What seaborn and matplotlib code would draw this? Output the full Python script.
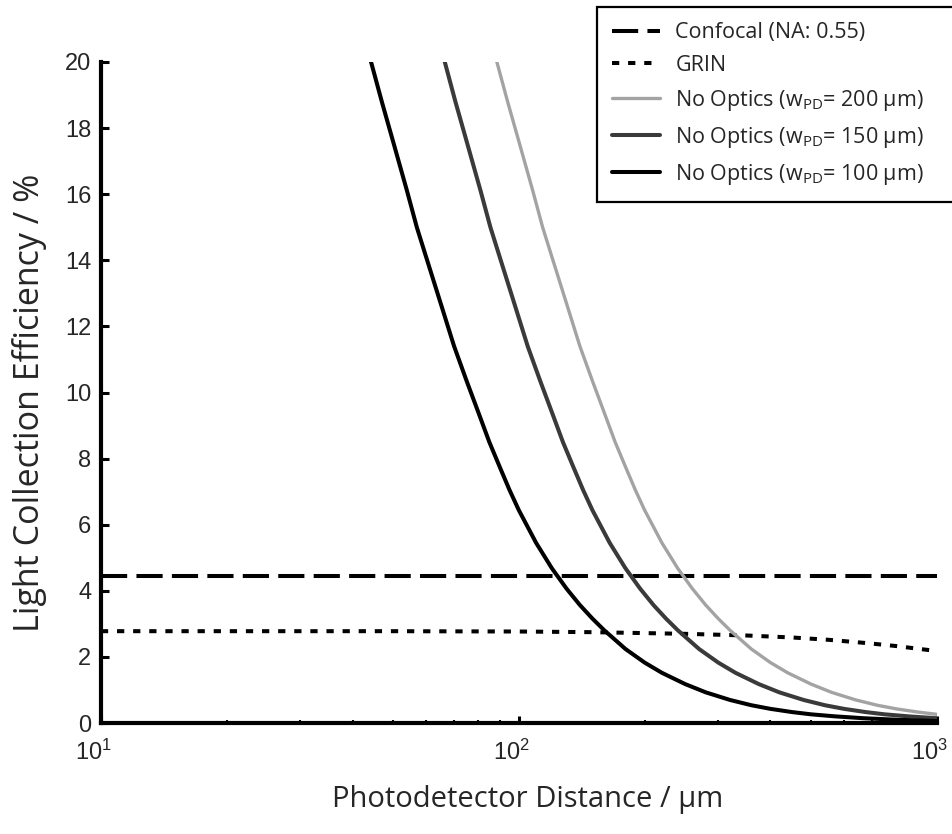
import matplotlib
matplotlib.use("Agg")
import matplotlib.pyplot as plt
from matplotlib.transforms import ScaledTranslation
import seaborn as sns
import pandas as pd

# Photodetector distance (µm) and light collection efficiency (%) per configuration
confocal_distance = [10, 1000]
confocal_eff = [4.45, 4.45]

grin_distance = [10, 50, 100, 150, 250, 350, 450, 550, 680, 800, 900, 1000]
grin_eff = [2.78, 2.78, 2.77, 2.75, 2.70, 2.65, 2.59, 2.52, 2.42, 2.33, 2.25, 2.18]

nooptics200_distance = [80, 84, 88.6, 94, 100, 108, 114, 120, 130, 140, 150, 160,
                        170, 180, 190, 200, 220, 240, 260, 280, 300, 320, 360, 400,
                        440, 500, 560, 640, 720, 800, 900, 1000]
nooptics200_eff = [22.1, 21.1, 20.0, 18.8, 17.6, 16.1, 15.0, 14.1, 12.7, 11.4, 10.35, 9.4,
                   8.5, 7.75, 7.05, 6.44, 5.45, 4.68, 4.07, 3.57, 3.16, 2.81, 2.24, 1.83,
                   1.52, 1.18, 0.93, 0.70, 0.54, 0.43, 0.334, 0.265]

nooptics150_distance = [60, 63, 66.5, 70.5, 75, 81, 85.5, 90, 97.5, 105, 112.5, 120,
                        127.5, 135, 142.5, 150, 165, 180, 195, 210, 225, 240, 270, 300,
                        330, 375, 420, 480, 540, 600, 675, 750, 855, 1000]
nooptics150_eff = [22.1, 21.1, 20.0, 18.8, 17.6, 16.1, 15.0, 14.1, 12.7, 11.4, 10.35, 9.4,
                   8.5, 7.75, 7.05, 6.44, 5.45, 4.68, 4.07, 3.57, 3.16, 2.81, 2.24, 1.83,
                   1.52, 1.18, 0.93, 0.70, 0.54, 0.43, 0.334, 0.265, 0.204, 0.147]

nooptics100_distance = [40, 42, 44.3, 47, 50, 54, 57, 60, 65, 70, 75, 80,
                        85, 90, 95, 100, 110, 120, 130, 140, 150, 160, 180, 200,
                        220, 250, 280, 320, 360, 400, 450, 500, 570, 667, 800, 1000]
nooptics100_eff = [22.1, 21.1, 20.0, 18.8, 17.6, 16.1, 15.0, 14.1, 12.7, 11.4, 10.35, 9.4,
                   8.5, 7.75, 7.05, 6.44, 5.45, 4.68, 4.07, 3.57, 3.16, 2.81, 2.24, 1.83,
                   1.52, 1.18, 0.93, 0.70, 0.54, 0.43, 0.334, 0.265, 0.204, 0.147, 0.102, 0.063]

series_labels = [
    "Confocal (NA: 0.55)",
    "GRIN",
    "No Optics (w$_{PD}$= 200 µm)",
    "No Optics (w$_{PD}$= 150 µm)",
    "No Optics (w$_{PD}$= 100 µm)",
]
y_ticks = list(range(0, 21, 2))
x_ticks = [10, 100, 1000]
x_tick_labels = ["$10^{1}$", "$10^{2}$", "$10^{3}$"]

sns.set_theme(style="white")
plt.rcParams["font.family"] = ["Liberation Sans", "DejaVu Sans"]
plt.rcParams["mathtext.default"] = "regular"

fig = plt.figure(figsize=(9.52, 8.34), dpi=100)
ax = fig.add_axes([0.106, 0.133, 0.878, 0.7927])

lw = 2.9
styles = [
    dict(x=confocal_distance, y=confocal_eff, color="black", lw=lw, dashes=(6.5, 2.3)),
    dict(x=grin_distance, y=grin_eff, color="black", lw=lw, dashes=(1.8, 2.2)),
    dict(x=nooptics200_distance, y=nooptics200_eff, color="#a3a3a3", lw=2.4, dashes=None),
    dict(x=nooptics150_distance, y=nooptics150_eff, color="#3a3a3a", lw=lw, dashes=None),
    dict(x=nooptics100_distance, y=nooptics100_eff, color="black", lw=lw, dashes=None),
]

handles = []
for label, st in zip(series_labels, styles):
    df = pd.DataFrame({"distance": st["x"], "efficiency": st["y"]})
    sns.lineplot(data=df, x="distance", y="efficiency", ax=ax, color=st["color"],
                 linewidth=st["lw"], label=label, legend=False, sort=False)
    line = ax.lines[-1]
    line.set_solid_joinstyle("round")
    if st["dashes"] is not None:
        line.set_dashes(st["dashes"])
        line.set_dash_capstyle("butt")
    handles.append(line)

ax.set_xscale("log")
ax.set_xlim(10, 1000)
ax.set_ylim(0, 20)
ax.set_yticks(y_ticks)
ax.set_yticklabels([str(t) for t in y_ticks])
ax.set_xticks(x_ticks)
ax.set_xticklabels(x_tick_labels)

for side in ["top", "right"]:
    ax.spines[side].set_visible(False)
for side in ["left", "bottom"]:
    ax.spines[side].set_linewidth(3.0)
    ax.spines[side].set_color("black")

ax.tick_params(axis="y", which="major", direction="in", length=6, width=2.2,
               labelsize=17, pad=7, color="black", left=True)
ax.tick_params(axis="x", which="major", direction="in", length=5, width=2.2,
               labelsize=17, pad=12, color="black", bottom=True)
ax.tick_params(axis="x", which="minor", direction="in", length=2.5, width=1.5,
               color="black", bottom=True)

# nudge the power-of-ten labels slightly left so the exponent sits past the tick
shift = ScaledTranslation(-7 / 100, 0, fig.dpi_scale_trans)
for lbl in ax.get_xticklabels():
    lbl.set_transform(lbl.get_transform() + shift)

label_font = ["Open Sans", "DejaVu Sans"]
ax.set_xlabel("Photodetector Distance / µm", fontsize=21, family=label_font)
ax.set_ylabel("Light Collection Efficiency / %", fontsize=24.5, family=label_font)
ax.xaxis.set_label_coords(0.511, -0.093)
ax.yaxis.set_label_coords(-0.064, 0.485)

# legend box spans from x≈597 px to just past the right edge of the figure
leg = ax.legend(handles=handles, labels=series_labels, loc="upper left",
                bbox_to_anchor=(0.627, 0.5, 0.39, 0.492), bbox_transform=fig.transFigure,
                mode="expand",
                prop={"family": label_font, "size": 15.5}, frameon=True, fancybox=False,
                handlelength=2.2, handletextpad=0.72, labelspacing=0.55,
                borderpad=0.72, borderaxespad=0)
leg.get_frame().set_edgecolor("black")
leg.get_frame().set_linewidth(1.6)
leg.get_frame().set_alpha(1)

fig.savefig("out.png", dpi=100, facecolor="white")
